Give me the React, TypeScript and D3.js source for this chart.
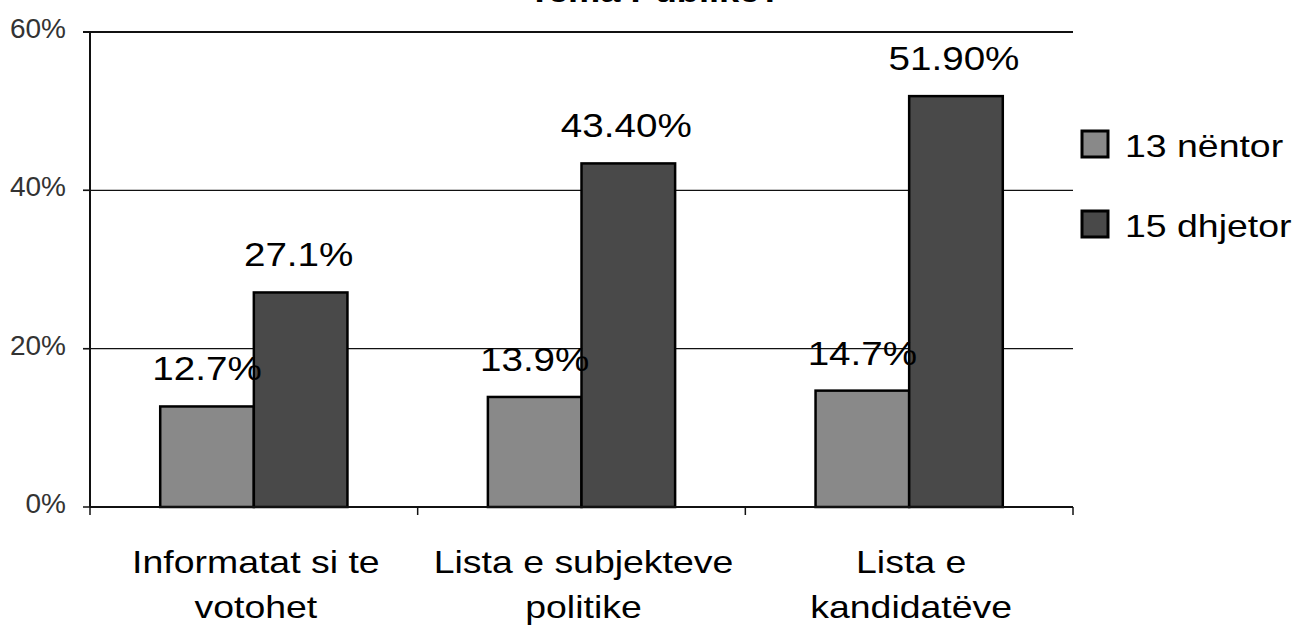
import React from "react";
import * as d3 from "d3";

const categories = ["Informatat si te votohet", "Lista e subjekteve politike", "Lista e kandidatëve"];
const categoryLines = [["Informatat si te", "votohet"], ["Lista e subjekteve", "politike"], ["Lista e", "kandidatëve"]];
const seriesNames = ["13 nëntor", "15 dhjetor"];
const nentor = [12.7, 13.9, 14.7];
const dhjetor = [27.1, 43.4, 51.9];
const nentorLabels = ["12.7%", "13.9%", "14.7%"];
const dhjetorLabels = ["27.1%", "43.40%", "51.90%"];
const yTicks = [0, 20, 40, 60];
const yTickLabels = ["0%", "20%", "40%", "60%"];
const title = "Tema Publike?";

const colors = ["#898989", "#494949"];
const FONT = "'Liberation Sans', Arial, sans-serif";
const SX = 1.17;

export default function App() {
  const W = 1294, H = 627;
  const left = 90, right = 1073, top = 32, bottom = 507;
  const x = d3.scaleBand<string>().domain(categories).range([left, right]).padding(0);
  const y = d3.scaleLinear().domain([0, 60]).range([bottom, top]);
  const bw = x.bandwidth() / 3.5;
  const series = [nentor, dhjetor];
  const labels = [nentorLabels, dhjetorLabels];
  const boundaries = [left, ...categories.map((c) => (x(c) as number) + x.bandwidth())];

  const sText = (tx: number, ty: number, s: string, size: number, anchor: string, extra: any = {}) => (
    <text
      transform={`translate(${tx},${ty}) scale(${SX},1)`}
      fontFamily={FONT}
      fontSize={size}
      textAnchor={anchor}
      fill="#000"
      {...extra}
    >
      {s}
    </text>
  );

  return (
    <div style={{ position: "absolute", left: 0, top: 0 }}>
      <svg width={W} height={H} style={{ display: "block", background: "#fff" }}>
        {sText(655, 2, title, 31, "middle", { fontWeight: "bold" })}
        {/* gridlines */}
        {yTicks.filter((t) => t > 0).map((t) => (
          <line key={t} x1={left - 7} x2={right} y1={y(t)} y2={y(t)} stroke="#111" strokeWidth={t === 60 ? 2 : 1.3} />
        ))}
        {/* y ticks */}
        {yTicks.map((t, i) => (
          <g key={"yt" + t}>
            <line x1={left - 7} x2={left} y1={y(t)} y2={y(t)} stroke="#111" strokeWidth={1.5} />
            <text x={66} y={y(t) + 6} textAnchor="end" fontFamily={FONT} fontSize={28} fill="#333">
              {yTickLabels[i]}
            </text>
          </g>
        ))}
        {/* bars */}
        {categories.map((c, ci) => {
          const cx = (x(c) as number) + x.bandwidth() / 2;
          return series.map((s, si) => {
            const bx = cx - bw + si * bw;
            return (
              <rect
                key={c + si}
                x={bx}
                y={y(s[ci])}
                width={bw}
                height={bottom - y(s[ci])}
                fill={colors[si]}
                stroke="#000"
                strokeWidth={2.5}
              />
            );
          });
        })}
        {/* axes */}
        <line x1={left} x2={left} y1={top} y2={bottom} stroke="#111" strokeWidth={2} />
        <line x1={left} x2={right} y1={bottom} y2={bottom} stroke="#111" strokeWidth={2} />
        {boundaries.map((b, i) => (
          <line key={"xb" + i} x1={b} x2={b} y1={bottom} y2={bottom + 8} stroke="#111" strokeWidth={1.5} />
        ))}
        {/* data labels */}
        {categories.map((c, ci) => {
          const cx = (x(c) as number) + x.bandwidth() / 2;
          return series.map((s, si) => {
            const lx = cx - bw / 2 + si * bw - (si === 1 ? 2 : 0);
            return <g key={"dl" + c + si}>{sText(lx, y(s[ci]) - 26, labels[si][ci], 33, "middle")}</g>;
          });
        })}
        {/* category labels */}
        {categories.map((c, ci) => {
          const cx = (x(c) as number) + x.bandwidth() / 2 + 2;
          return categoryLines[ci].map((ln, li) => (
            <g key={"cl" + ci + li}>{sText(cx, 573 + li * 45, ln, 32, "middle")}</g>
          ));
        })}
        {/* legend */}
        {seriesNames.map((n, i) => (
          <g key={"lg" + i}>
            <rect x={1082} y={131 + i * 80} width={26} height={26} fill={colors[i]} stroke="#000" strokeWidth={3} />
            {sText(1125, 157 + i * 80, n, 32, "start")}
          </g>
        ))}
      </svg>
    </div>
  );
}
